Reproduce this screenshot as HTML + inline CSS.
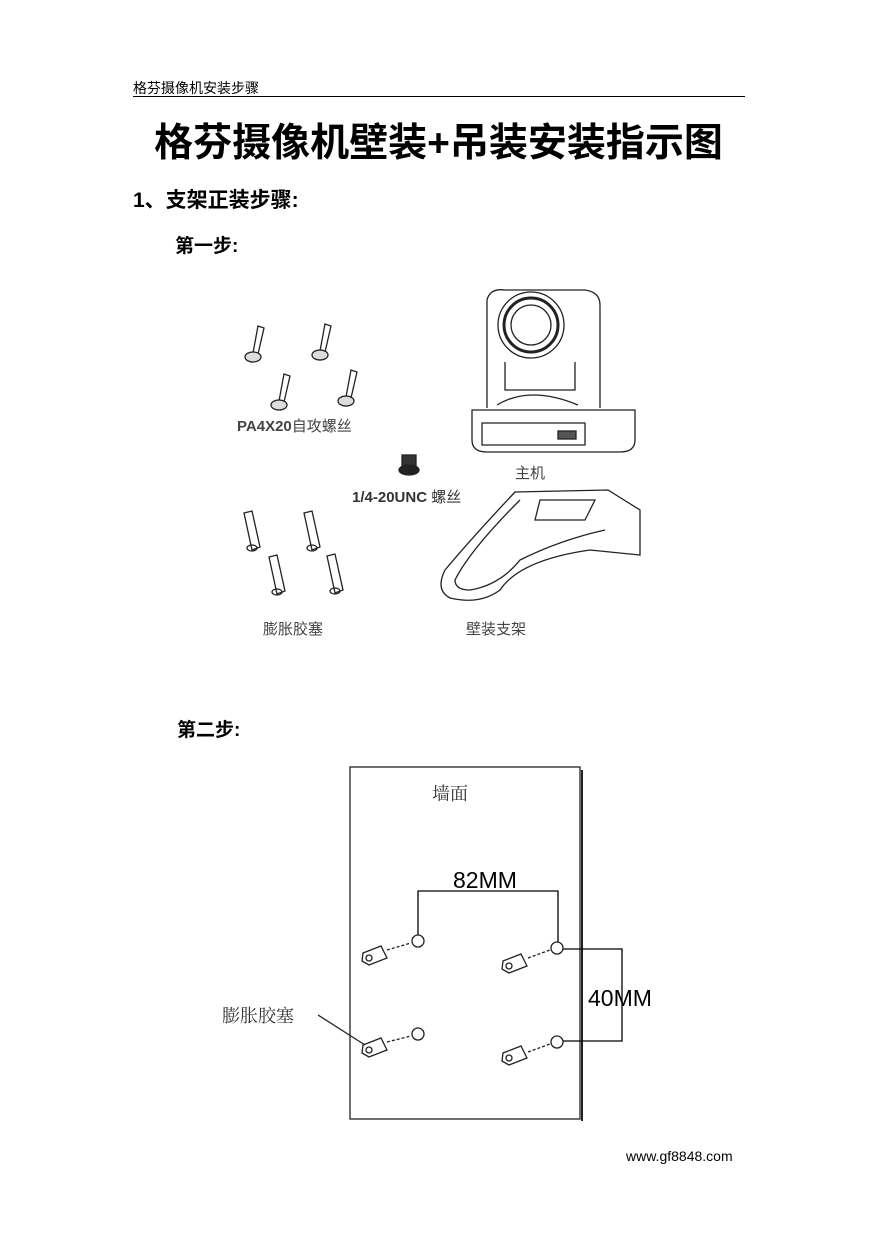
<!DOCTYPE html>
<html><head><meta charset="utf-8"><style>
body{margin:0;background:#fff;width:877px;height:1240px;position:relative;overflow:hidden;font-family:"Liberation Sans","Noto Sans CJK SC",sans-serif;color:#000}
.t{position:absolute;white-space:nowrap}
</style></head><body>
<div class="t" style="left:133px;top:78px;font-size:14px">格芬摄像机安装步骤</div>
<div style="position:absolute;left:133px;top:96px;width:612px;height:1px;background:#000"></div>
<div class="t" style="left:0;width:877px;text-align:center;top:112px;font-size:39px;font-weight:bold">格芬摄像机壁装+吊装安装指示图</div>
<div class="t" style="left:133px;top:184px;font-size:21px;font-weight:bold">1、支架正装步骤:</div>
<div class="t" style="left:175px;top:231px;font-size:19px;font-weight:bold">第一步:</div>
<div class="t" style="left:177px;top:715px;font-size:19px;font-weight:bold">第二步:</div>
<div class="t" style="left:626px;top:1148px;font-size:14px">www.gf8848.com</div>

<svg width="877" height="1240" style="position:absolute;left:0;top:0" fill="none" stroke="#222" stroke-width="1.3">
<g id="sc"><path d="M258 326 l6 2 l-6 26 l-5 -1 z"/><ellipse cx="253" cy="357" rx="8" ry="5" fill="#ddd"/></g>
<use href="#sc" transform="translate(67,-2)"/>
<use href="#sc" transform="translate(26,48)"/>
<use href="#sc" transform="translate(93,44)"/>
<path d="M487 408 L487 300 Q490 288 505 290 L585 290 Q600 292 600 305 L600 408" />
<path d="M472 410 L635 410 L635 440 Q635 452 620 452 L487 452 Q472 452 472 440 Z"/>
<path d="M482 423 L585 423 L585 445 L482 445 Z"/>
<rect x="558" y="431" width="18" height="8" fill="#555"/>
<circle cx="531" cy="325" r="33"/><circle cx="531" cy="325" r="27" stroke-width="3"/><circle cx="531" cy="325" r="20"/>
<path d="M505 362 L505 390 L575 390 L575 362"/>
<path d="M497 405 Q530 385 578 405"/>
<rect x="402" y="455" width="14" height="12" fill="#333"/><ellipse cx="409" cy="470" rx="10" ry="5" fill="#222"/>
<g id="an"><path d="M244 513 l8 -2 l8 36 l-8 3 z"/><ellipse cx="252" cy="548" rx="5" ry="3"/></g>
<use href="#an" transform="translate(60,0)"/>
<use href="#an" transform="translate(25,44)"/>
<use href="#an" transform="translate(83,43)"/>
<path d="M515 492 L608 490 L640 510 L640 555 L590 550 Q520 560 500 590 Q480 605 450 598 Q435 590 445 570 Q470 540 515 492 Z"/>
<path d="M520 500 Q470 550 455 580 Q455 590 470 590 Q500 585 520 560 Q560 540 605 530"/>
<path d="M540 500 L595 500 L585 520 L535 520 Z"/>
<rect x="350" y="767" width="230" height="352"/>
<line x1="582" y1="770" x2="582" y2="1121" stroke-width="2"/>
<path d="M418 935 L418 891 L558 891 L558 942" stroke="#000"/>
<path d="M563 949 L622 949 L622 1041 L563 1041" stroke="#000"/>
<circle cx="418" cy="941" r="6"/><circle cx="557" cy="948" r="6"/>
<circle cx="418" cy="1034" r="6"/><circle cx="557" cy="1042" r="6"/>
<g stroke-dasharray="3 2">
<line x1="387" y1="950" x2="411" y2="943"/><line x1="528" y1="958" x2="550" y2="950"/>
<line x1="387" y1="1042" x2="411" y2="1036"/><line x1="528" y1="1052" x2="550" y2="1044"/>
</g>
<g id="hx"><path d="M363 953 l18 -7 l6 12 l-18 7 l-7 -4 z"/><circle cx="369" cy="958" r="3"/></g>
<use href="#hx" transform="translate(140,8)"/>
<use href="#hx" transform="translate(0,92)"/>
<use href="#hx" transform="translate(140,100)"/>
<line x1="318" y1="1015" x2="365" y2="1045"/>
</svg>
<div class="t" style="left:237px;top:415px;font-size:15px;color:#444;font-weight:bold">PA4X20<span style="font-weight:normal">自攻螺丝</span></div>
<div class="t" style="left:515px;top:462px;font-size:15px;color:#444">主机</div>
<div class="t" style="left:352px;top:486px;font-size:15px;color:#333;font-weight:bold">1/4-20UNC <span style="font-weight:normal">螺丝</span></div>
<div class="t" style="left:263px;top:618px;font-size:15px;color:#444">膨胀胶塞</div>
<div class="t" style="left:466px;top:618px;font-size:15px;color:#444">壁装支架</div>
<div class="t" style="left:432px;top:780px;font-size:18px;color:#333;font-family:'Liberation Serif','Noto Serif CJK SC',serif">墙面</div>
<div class="t" style="left:453px;top:867px;font-size:23px">82MM</div>
<div class="t" style="left:588px;top:985px;font-size:23px">40MM</div>
<div class="t" style="left:222px;top:1002px;font-size:18px;color:#333;font-family:'Liberation Serif','Noto Serif CJK SC',serif">膨胀胶塞</div>
</body></html>
